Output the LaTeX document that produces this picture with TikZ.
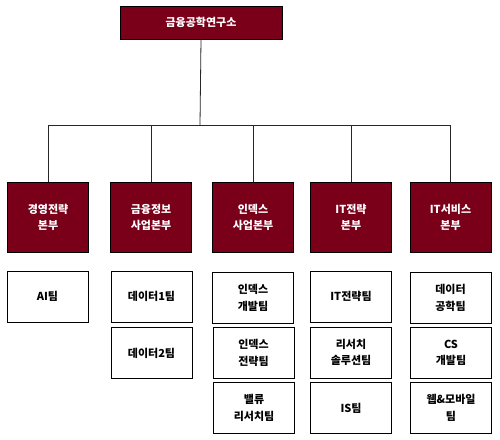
\documentclass[tikz,border=0pt]{standalone}
\usepackage{fontspec}
\setmainfont{Noto Sans CJK KR}
\begin{document}
\begin{tikzpicture}[x=1pt,y=-1pt,
  hq/.style={draw=black,line width=0.8pt,fill=wine,text=white,font=\bfseries\fontsize{11}{16}\selectfont,align=center,inner sep=0pt,minimum width=162pt,minimum height=33pt},
  div/.style={draw=black,line width=0.8pt,fill=wine,text=white,font=\bfseries\fontsize{11}{16}\selectfont,align=center,inner sep=0pt,minimum width=81pt,minimum height=70pt},
  team/.style={draw=black,line width=1pt,fill=white,text=black,font=\bfseries\fontsize{11}{16.5}\selectfont,align=center,inner sep=0pt,minimum width=81pt,minimum height=51pt},
  link/.style={draw=black!85,line width=0.8pt}]
\definecolor{wine}{HTML}{7A0019}
\useasboundingbox (0,0) rectangle (500,439);
\fill[white] (0,0) rectangle (500,439);
\node[hq] (top) at (201,22.5) {금융공학연구소};
\node[div] (d1) at (48,217) {경영전략\\본부};
\node[div] (d2) at (151,217) {금융정보\\사업본부};
\node[div] (d3) at (253,217) {인덱스\\사업본부};
\node[div] (d4) at (351,217) {IT전략\\본부};
\node[div] (d5) at (450.5,217) {IT서비스\\본부};
\coordinate (j) at (200,125);
\draw[link] (top.south) -- (j);
\draw[link] (d1.north) -- (d1.north |- j) -- (d5.north |- j) -- (d5.north);
\draw[link] (d2.north) -- (d2.north |- j);
\draw[link] (d3.north) -- (d3.north |- j);
\draw[link] (d4.north) -- (d4.north |- j);
\node[team] (t11) at (47.5,296.5) {AI팀};
\node[team] (t21) at (151.5,296.5) {데이터1팀};
\node[team] (t22) at (151.5,353) {데이터2팀};
\node[team] (t31) at (253,298) {인덱스\\개발팀};
\node[team] (t32) at (253.5,353) {인덱스\\전략팀};
\node[team] (t33) at (254,408) {밸류\\리서치팀};
\node[team] (t41) at (351,296.5) {IT전략팀};
\node[team] (t42) at (351,352.5) {리서치\\솔루션팀};
\node[team] (t43) at (351,408) {IS팀};
\node[team] (t51) at (450.5,298) {데이터\\공학팀};
\node[team] (t52) at (451,353) {CS\\개발팀};
\node[team] (t53) at (451,408) {웹\&모바일\\팀};
\end{tikzpicture}
\end{document}
